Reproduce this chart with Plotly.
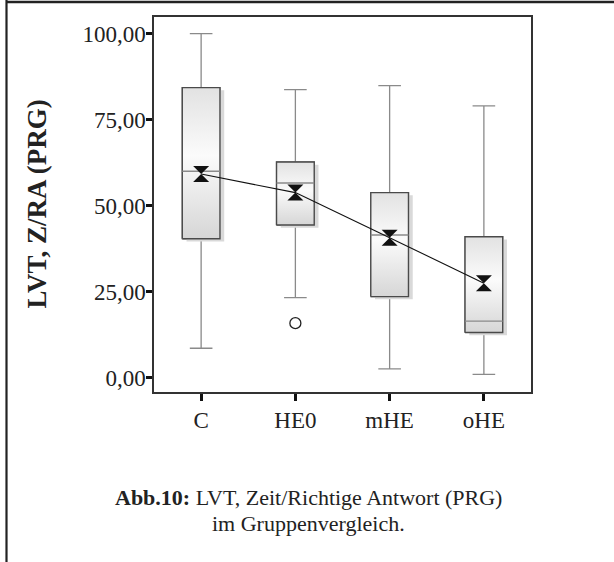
import plotly.graph_objects as go

# Group labels and box statistics (LVT, Zeit/Richtige Antwort, PRG)
groups = ["C", "HE0", "mHE", "oHE"]
q1 = [40.4, 44.4, 23.6, 13.2]
median = [60.0, 56.6, 41.5, 16.5]
q3 = [84.3, 62.7, 53.8, 41.0]
whisker_low = [8.6, 23.3, 2.6, 1.0]
whisker_high = [100.0, 83.7, 84.9, 79.0]
means = [59.2, 53.8, 40.7, 27.5]
outlier_group = ["HE0"]
outlier_value = [15.9]

y_tickvals = [0, 25, 50, 75, 100]
y_ticktext = ["0,00", "25,00", "50,00", "75,00", "100,00"]

SERIF = "Liberation Serif, Times New Roman, serif"
BOX_HALF = 0.2
SHADOW_DX = 0.045
SHADOW_DY = 0.8

pos = list(range(len(groups)))

fig = go.Figure()

# whiskers and caps (box body is painted over by the shaded rectangles)
fig.add_trace(go.Box(
    x=pos, q1=q1, median=median, q3=q3,
    lowerfence=whisker_low, upperfence=whisker_high,
    width=BOX_HALF * 2, whiskerwidth=0.6,
    fillcolor="rgba(0,0,0,0)",
    line=dict(color="#8a8a8a", width=1.3),
    boxpoints=False, showlegend=False, hoverinfo="skip",
))

for i in pos:
    # drop shadow behind each box
    xs = [i - BOX_HALF + SHADOW_DX, i + BOX_HALF + SHADOW_DX,
          i + BOX_HALF + SHADOW_DX, i - BOX_HALF + SHADOW_DX, i - BOX_HALF + SHADOW_DX]
    ys = [q1[i] - SHADOW_DY, q1[i] - SHADOW_DY, q3[i] - SHADOW_DY,
          q3[i] - SHADOW_DY, q1[i] - SHADOW_DY]
    fig.add_trace(go.Scatter(
        x=xs, y=ys, mode="lines", fill="toself",
        fillcolor="#d9d9d9", line=dict(width=0, color="#d9d9d9"),
        showlegend=False, hoverinfo="skip",
    ))
    # shaded box body
    bx = [i - BOX_HALF, i + BOX_HALF, i + BOX_HALF, i - BOX_HALF, i - BOX_HALF]
    by = [q1[i], q1[i], q3[i], q3[i], q1[i]]
    fig.add_trace(go.Scatter(
        x=bx, y=by, mode="lines", fill="toself",
        fillgradient=dict(
            type="vertical",
            colorscale=[[0, "#d6d6d6"], [0.55, "#fbfbfb"], [1, "#e2e2e2"]],
        ),
        line=dict(color="#4a4a4a", width=1.4),
        showlegend=False, hoverinfo="skip",
    ))
    # median line
    fig.add_trace(go.Scatter(
        x=[i - BOX_HALF, i + BOX_HALF], y=[median[i], median[i]],
        mode="lines", line=dict(color="#8a8a8a", width=1.3),
        showlegend=False, hoverinfo="skip",
    ))

# outliers
fig.add_trace(go.Scatter(
    x=[groups.index(g) for g in outlier_group], y=outlier_value,
    mode="markers",
    marker=dict(symbol="circle-open", size=11, color="#222", line=dict(width=1.3)),
    showlegend=False, hoverinfo="skip",
))

# group means joined by a line
fig.add_trace(go.Scatter(
    x=pos, y=means, mode="lines+markers",
    line=dict(color="#111", width=1.1),
    marker=dict(symbol="hourglass", size=16, color="#111"),
    showlegend=False, hoverinfo="skip",
))

fig.update_layout(
    width=614, height=562,
    margin=dict(l=154, r=83, t=17, b=170),
    paper_bgcolor="white", plot_bgcolor="white",
    font=dict(family=SERIF, color="#222", size=23),
    xaxis=dict(
        type="linear", range=[-0.5, 3.5],
        tickvals=pos, ticktext=groups,
        ticks="outside", ticklen=7, tickwidth=3, tickcolor="#111",
        showgrid=False, zeroline=False,
        showline=True, linecolor="#333", linewidth=1.5, mirror=True,
        tickfont=dict(family=SERIF, size=23, color="#222"),
    ),
    yaxis=dict(
        range=[-4.1, 104.8],
        tickvals=y_tickvals, ticktext=y_ticktext,
        ticks="outside", ticklen=6, tickwidth=3, tickcolor="#111",
        showgrid=False, zeroline=False,
        showline=True, linecolor="#333", linewidth=1.5, mirror=True,
        tickfont=dict(family=SERIF, size=23, color="#222"),
        ticklabelstandoff=-4,
    ),
)

# y-axis title
fig.add_annotation(
    text="<b>LVT, Z/RA (PRG)</b>", xref="paper", yref="paper",
    x=(36 - 154) / 377, y=0.5, textangle=-90, showarrow=False,
    font=dict(family=SERIF, size=27, color="#222"),
    xanchor="center", yanchor="middle",
)

# figure caption
fig.add_annotation(
    text="<b>Abb.10:</b> LVT, Zeit/Richtige Antwort (PRG)",
    xref="paper", yref="paper", x=(308 - 154) / 377, y=(392 - 497) / 374.5,
    showarrow=False, xanchor="center", yanchor="middle",
    font=dict(family=SERIF, size=22, color="#222"),
)
fig.add_annotation(
    text="im Gruppenvergleich.",
    xref="paper", yref="paper", x=(308 - 154) / 377, y=(392 - 523) / 374.5,
    showarrow=False, xanchor="center", yanchor="middle",
    font=dict(family=SERIF, size=22, color="#222"),
)

# page frame lines (left rule and top rule)
fig.add_shape(type="line", xref="paper", yref="paper",
              x0=(6.5 - 154) / 377, x1=(6.5 - 154) / 377,
              y0=(392 - 562) / 374.5, y1=392 / 374.5,
              line=dict(color="#222", width=2.2))
fig.add_shape(type="line", xref="paper", yref="paper",
              x0=(6.5 - 154) / 377, x1=(614 - 154) / 377,
              y0=(392 - 2.5) / 374.5, y1=(392 - 2.5) / 374.5,
              line=dict(color="#222", width=2.5))

fig.write_html("out.html")
